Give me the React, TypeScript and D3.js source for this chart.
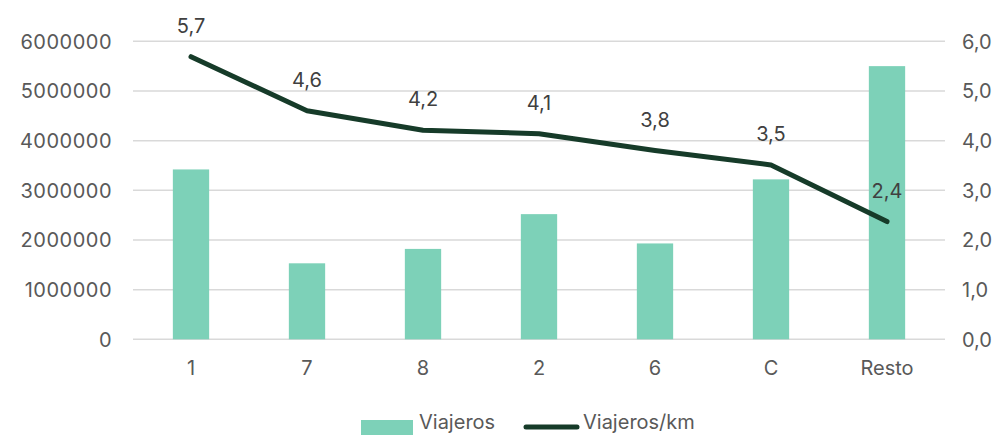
import React from "react";
import * as d3 from "d3";

const categories = ["1", "7", "8", "2", "6", "C", "Resto"];
const viajeros = [3420000, 1530000, 1820000, 2520000, 1930000, 3220000, 5500000];
const viajerosKm = [5.69, 4.6, 4.21, 4.14, 3.8, 3.51, 2.37];
const leftTicks = [0, 1000000, 2000000, 3000000, 4000000, 5000000, 6000000];
const rightTicks = [0, 1, 2, 3, 4, 5, 6];

const W = 1000;
const H = 435;
const left = 133;
const right = 945;
const top = 41.3;
const bottom = 339.3;
const font = "Inter, 'Noto Sans', sans-serif";
const textColor = "#595959";
const barColor = "#7DD1B8";
const lineColor = "#163B29";

export default function App() {
  const x = d3.scaleBand<string>().domain(categories).range([left, right]).paddingInner(0.687).paddingOuter(0.3435);
  const yL = d3.scaleLinear().domain([0, 6000000]).range([bottom, top]);
  const yR = d3.scaleLinear().domain([0, 6]).range([bottom, top]);
  const cx = (c: string) => (x(c) as number) + x.bandwidth() / 2;
  const line = d3
    .line<number>()
    .x((_, i) => cx(categories[i]))
    .y((d) => yR(d));
  const fmt = (v: number) => v.toFixed(1).replace(".", ",");

  return (
    <svg width={W} height={H} style={{ position: "absolute", left: 0, top: 0, display: "block" }} fontFamily={font}>
      <rect width={W} height={H} fill="#fff" />
      {leftTicks.map((t) => (
        <line key={t} x1={left} x2={right} y1={yL(t)} y2={yL(t)} stroke="#D9D9D9" strokeWidth={1.5} />
      ))}
      {leftTicks.map((t) => (
        <text key={t} x={112} y={yL(t)} dy="0.36em" textAnchor="end" fontSize={20} fill={textColor} letterSpacing={0.5}>
          {String(t)}
        </text>
      ))}
      {rightTicks.map((t) => (
        <text key={t} x={962} y={yR(t)} dy="0.36em" textAnchor="start" fontSize={20} fill={textColor}>
          {fmt(t)}
        </text>
      ))}
      {categories.map((c, i) => (
        <rect key={c} x={x(c)} y={yL(viajeros[i])} width={x.bandwidth()} height={bottom - yL(viajeros[i])} fill={barColor} />
      ))}
      {categories.map((c) => (
        <text key={c} x={cx(c)} y={368} dy="0.36em" textAnchor="middle" fontSize={20} fill={textColor}>
          {c}
        </text>
      ))}
      <path d={line(viajerosKm) || ""} fill="none" stroke={lineColor} strokeWidth={5} strokeLinecap="round" strokeLinejoin="round" />
      {categories.map((c, i) => (
        <text key={c} x={cx(c)} y={yR(viajerosKm[i]) - 31} dy="0.36em" textAnchor="middle" fontSize={20} fill="#404040">
          {fmt(viajerosKm[i])}
        </text>
      ))}
      <rect x={361} y={420} width={52} height={15} fill={barColor} />
      <text x={419} y={422} dy="0.36em" fontSize={20} fill={textColor}>Viajeros</text>
      <line x1={526} x2={577} y1={427} y2={427} stroke={lineColor} strokeWidth={5} strokeLinecap="round" />
      <text x={583} y={422} dy="0.36em" fontSize={20} fill={textColor}>Viajeros/km</text>
    </svg>
  );
}
